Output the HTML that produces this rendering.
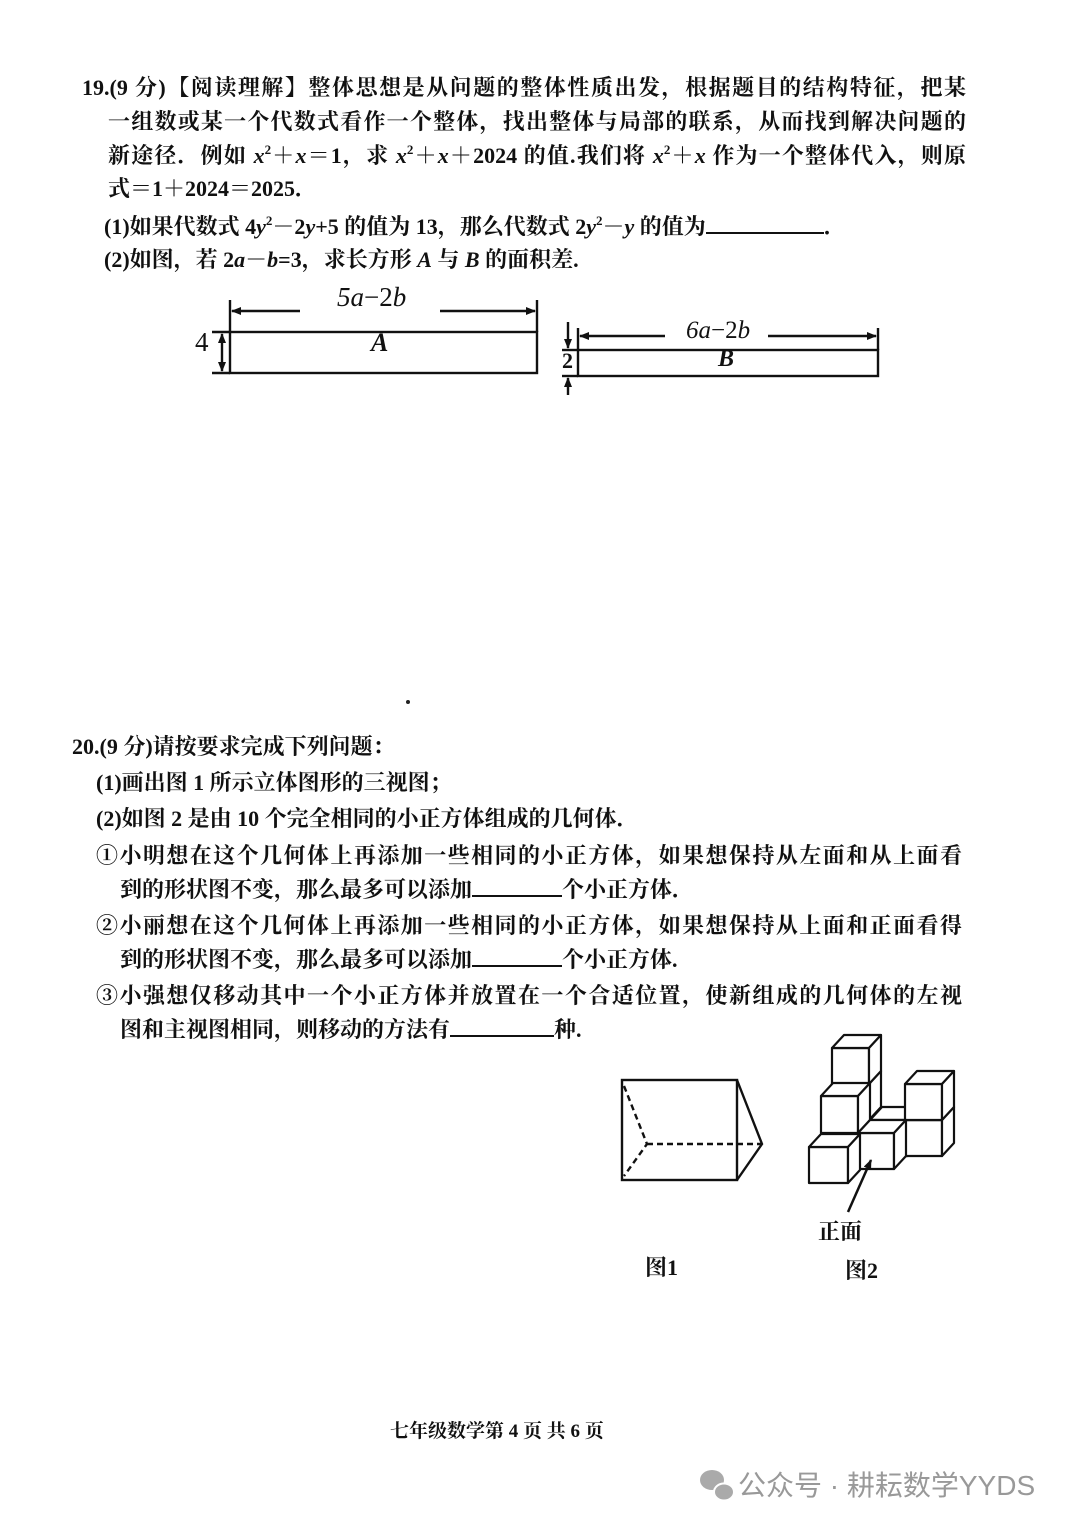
<!DOCTYPE html>
<html><head><meta charset="utf-8">
<style>
html,body{margin:0;padding:0;}
body{width:1080px;height:1527px;position:relative;background:#fff;overflow:hidden;
font-family:"Liberation Serif","Noto Serif CJK SC","Noto Sans CJK SC",serif;color:#111;}
.l{position:absolute;font-size:22px;font-weight:bold;white-space:nowrap;line-height:28px;}
.j{text-align:justify;text-align-last:justify;white-space:normal;}
i{font-style:italic;}
sup{font-size:13px;vertical-align:9px;line-height:0;}
svg{position:absolute;left:0;top:0;}
</style></head><body>
<div class="l j" style="left:82px;top:74px;width:884px;">19.(9 分)【阅读理解】整体思想是从问题的整体性质出发，根据题目的结构特征，把某</div>
<div class="l j" style="left:108px;top:108px;width:858px;">一组数或某一个代数式看作一个整体，找出整体与局部的联系，从而找到解决问题的</div>
<div class="l j" style="left:108px;top:142px;width:858px;">新途径．例如 <i>x</i><sup>2</sup>＋<i>x</i>＝1，求 <i>x</i><sup>2</sup>＋<i>x</i>＋2024 的值.我们将 <i>x</i><sup>2</sup>＋<i>x</i> 作为一个整体代入，则原</div>
<div class="l" style="left:108px;top:175px;">式＝1＋2024＝2025．</div>
<div class="l" style="left:104px;top:212px;">(1)如果代数式 4<i>y</i><sup>2</sup>－2<i>y</i>+5 的值为 13，那么代数式 2<i>y</i><sup>2</sup>－<i>y</i> 的值为<span style="display:inline-block;width:118px;border-bottom:2px solid #111;height:20px;"></span>．</div>
<div class="l" style="left:104px;top:246px;">(2)如图，若 2<i>a</i>－<i>b</i>=3，求长方形 <i>A</i> 与 <i>B</i> 的面积差.</div>

<div class="l" style="left:72px;top:733px;">20.(9 分)请按要求完成下列问题：</div>
<div class="l" style="left:96px;top:769px;">(1)画出图 1 所示立体图形的三视图；</div>
<div class="l" style="left:96px;top:805px;">(2)如图 2 是由 10 个完全相同的小正方体组成的几何体．</div>
<div class="l j" style="left:96px;top:842px;width:866px;">①小明想在这个几何体上再添加一些相同的小正方体，如果想保持从左面和从上面看</div>
<div class="l" style="left:120px;top:875px;">到的形状图不变，那么最多可以添加<span style="display:inline-block;width:90px;border-bottom:2px solid #111;height:20px;"></span>个小正方体．</div>
<div class="l j" style="left:96px;top:912px;width:866px;">②小丽想在这个几何体上再添加一些相同的小正方体，如果想保持从上面和正面看得</div>
<div class="l" style="left:120px;top:945px;">到的形状图不变，那么最多可以添加<span style="display:inline-block;width:90px;border-bottom:2px solid #111;height:20px;"></span>个小正方体.</div>
<div class="l j" style="left:96px;top:982px;width:866px;">③小强想仅移动其中一个小正方体并放置在一个合适位置，使新组成的几何体的左视</div>
<div class="l" style="left:120px;top:1015px;">图和主视图相同，则移动的方法有<span style="display:inline-block;width:104px;border-bottom:2px solid #111;height:20px;"></span>种.</div>

<div class="l" style="left:818px;top:1218px;">正面</div>
<div class="l" style="left:645px;top:1254px;">图1</div>
<div class="l" style="left:845px;top:1257px;">图2</div>

<div class="l" style="left:390px;top:1418px;font-size:19px;">七年级数学第 4 页 共 6 页</div>
<div style="position:absolute;left:738px;top:1464px;font-family:'Liberation Sans','Noto Sans CJK SC',sans-serif;font-size:28px;color:#999;white-space:nowrap;">公众号 · 耕耘数学YYDS</div>

<svg width="1080" height="1527" viewBox="0 0 1080 1527">
<defs><marker id="ar" markerWidth="10" markerHeight="8" refX="9" refY="4" orient="auto" markerUnits="userSpaceOnUse"><path d="M0,0 L10,4 L0,8 Z" fill="#111"/></marker></defs>
<g stroke="#111" stroke-width="2.4" fill="none">
<rect x="230" y="332" width="307" height="41"/>
<line x1="212" y1="332" x2="230" y2="332"/><line x1="212" y1="373" x2="230" y2="373"/>
<line x1="230" y1="300" x2="230" y2="332"/><line x1="537" y1="300" x2="537" y2="332"/>
<line x1="300" y1="311" x2="232" y2="311" marker-end="url(#ar)"/>
<line x1="440" y1="311" x2="535" y2="311" marker-end="url(#ar)"/>
<line x1="222" y1="352" x2="222" y2="334" marker-end="url(#ar)"/>
<line x1="222" y1="352" x2="222" y2="371" marker-end="url(#ar)"/>
<rect x="578" y="350" width="300" height="26"/>
<line x1="562" y1="350" x2="578" y2="350"/><line x1="562" y1="376" x2="578" y2="376"/>
<line x1="578" y1="328" x2="578" y2="350"/><line x1="878" y1="328" x2="878" y2="350"/>
<line x1="665" y1="336" x2="580" y2="336" marker-end="url(#ar)"/>
<line x1="768" y1="336" x2="876" y2="336" marker-end="url(#ar)"/>
<line x1="568" y1="322" x2="568" y2="348" marker-end="url(#ar)"/>
<line x1="568" y1="395" x2="568" y2="378" marker-end="url(#ar)"/>
<rect x="622" y="1080" width="115" height="100"/>
<polyline points="737,1080 762,1144 737,1180"/>
<g stroke-dasharray="6,4"><polyline points="624,1086 647,1144 624,1176"/><line x1="647" y1="1144" x2="762" y2="1144"/></g>
</g>
<g stroke="#111" stroke-width="2.2" fill="#fff" stroke-linejoin="round">
<g transform="translate(832,1084)"><rect width="37" height="36"/><polygon points="0,0 12,-13 49,-13 37,0"/><polygon points="37,0 49,-13 49,23 37,36"/></g>
<g transform="translate(832,1048)"><rect width="37" height="36"/><polygon points="0,0 12,-13 49,-13 37,0"/><polygon points="37,0 49,-13 49,23 37,36"/></g>
<g transform="translate(870,1120)"><rect width="37" height="36"/><polygon points="0,0 12,-13 49,-13 37,0"/><polygon points="37,0 49,-13 49,23 37,36"/></g>
<g transform="translate(905,1120)"><rect width="37" height="36"/><polygon points="0,0 12,-13 49,-13 37,0"/><polygon points="37,0 49,-13 49,23 37,36"/></g>
<g transform="translate(905,1084)"><rect width="37" height="36"/><polygon points="0,0 12,-13 49,-13 37,0"/><polygon points="37,0 49,-13 49,23 37,36"/></g>
<g transform="translate(821,1096)"><rect width="37" height="37"/><polygon points="0,0 12,-13 49,-13 37,0"/><polygon points="37,0 49,-13 49,24 37,37"/></g>
<g transform="translate(858,1133)"><rect width="36" height="36"/><polygon points="0,0 12,-13 48,-13 36,0"/><polygon points="36,0 48,-13 48,23 36,36"/></g>
<g transform="translate(809,1147)"><rect width="39" height="36"/><polygon points="0,0 12,-13 51,-13 39,0"/><polygon points="39,0 51,-13 51,23 39,36"/></g>
</g>
<line x1="848" y1="1212" x2="871" y2="1160" stroke="#111" stroke-width="2.5" marker-end="url(#ar)"/>
<g fill="#aaa"><ellipse cx="712" cy="1480" rx="12" ry="10"/><ellipse cx="724" cy="1492" rx="10" ry="8.5" stroke="#fff" stroke-width="2"/></g>
</svg>
<div style="position:absolute;font-family:'Liberation Serif',serif;font-size:27px;left:337px;top:282px;"><i>5a</i>−2<i>b</i></div>
<div style="position:absolute;font-family:'Liberation Serif',serif;font-size:25px;left:686px;top:317px;"><i>6a</i>−2<i>b</i></div>
<div style="position:absolute;font-family:'Liberation Serif',serif;font-size:27px;left:195px;top:327px;">4</div>
<div style="position:absolute;font-family:'Liberation Serif',serif;font-size:26px;left:371px;top:328px;font-weight:bold;"><i>A</i></div>
<div style="position:absolute;font-family:'Liberation Serif',serif;font-size:22px;left:562px;top:348px;font-weight:bold;">2</div>
<div style="position:absolute;font-family:'Liberation Serif',serif;font-size:24px;left:718px;top:346px;font-weight:bold;"><i>B</i></div>
<div style="position:absolute;left:406px;top:700px;width:4px;height:4px;background:#222;border-radius:2px;"></div>
</body></html>
